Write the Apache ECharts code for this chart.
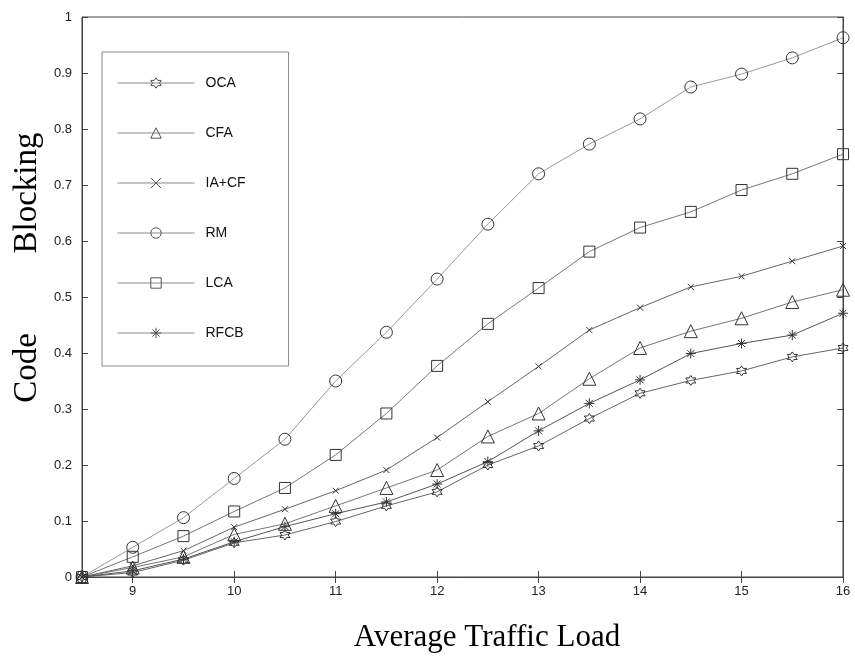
<!DOCTYPE html>
<html>
<head>
<meta charset="utf-8">
<script src="https://cdn.jsdelivr.net/npm/echarts@6/dist/echarts.min.js"></script>
<style>
	html,body{margin:0;padding:0;background:#fff;}
	#chart{width:855px;height:657px;}
</style>
</head>
<body>
<div id="chart"></div>
<script>
//横轴：平均话务量
var loads = [8.5, 9, 9.5, 10, 10.5, 11, 11.5, 12, 12.5, 13, 13.5, 14, 14.5, 15, 15.5, 16];
var xTicks = [9, 10, 11, 12, 13, 14, 15, 16];
var yTicks = [0, 0.1, 0.2, 0.3, 0.4, 0.5, 0.6, 0.7, 0.8, 0.9, 1];

//各算法的码阻塞率
var oca  = [0, 0.008, 0.030, 0.061, 0.075, 0.099, 0.127, 0.152, 0.200, 0.234, 0.283, 0.328, 0.351, 0.368, 0.393, 0.409];
var cfa  = [0, 0.017, 0.036, 0.076, 0.095, 0.127, 0.159, 0.191, 0.251, 0.292, 0.354, 0.409, 0.439, 0.462, 0.491, 0.513];
var iacf = [0, 0.020, 0.047, 0.089, 0.121, 0.154, 0.191, 0.249, 0.313, 0.376, 0.441, 0.481, 0.518, 0.537, 0.564, 0.591];
var rm   = [0, 0.053, 0.106, 0.176, 0.246, 0.350, 0.437, 0.532, 0.630, 0.720, 0.773, 0.818, 0.875, 0.898, 0.927, 0.963];
var lca  = [0, 0.036, 0.073, 0.117, 0.159, 0.218, 0.292, 0.377, 0.452, 0.516, 0.581, 0.624, 0.652, 0.691, 0.720, 0.755];
var rfcb = [0, 0.011, 0.032, 0.063, 0.090, 0.113, 0.134, 0.166, 0.206, 0.261, 0.310, 0.352, 0.399, 0.417, 0.432, 0.471];

var names = ['OCA', 'CFA', 'IA+CF', 'RM', 'LCA', 'RFCB'];
var values = [oca, cfa, iacf, rm, lca, rfcb];

//标记形状
var hexagram = 'path://M10 0 L12.89 5 L18.66 5 L15.77 10 L18.66 15 L12.89 15 L10 20 L7.11 15 L1.34 15 L4.23 10 L1.34 5 L7.11 5 Z';
var xmark = 'path://M0 0 L20 20 M20 0 L0 20';
var aster = 'path://M10 0 L10 20 M0 10 L20 10 M3 3 L17 17 M17 3 L3 17';
var symbols = [hexagram, 'triangle', xmark, 'circle', 'rect', aster];
var sizes = [10, 13, 6, 12, 11, 10];
var lineColors = ['#666', '#777', '#666', '#999', '#777', '#555'];

function pairs(ys){
	var out = [];
	for(var i = 0; i < loads.length; i++){
		out.push([loads[i], ys[i]]);
	}
	return out;
}

var series = [];
for(var i = 0; i < names.length; i++){
	series.push({
		name: names[i],
		type: 'line',
		data: pairs(values[i]),
		symbol: symbols[i],
		symbolSize: sizes[i],
		showAllSymbol: true,
		clip: false,
		lineStyle: {color: lineColors[i], width: 1},
		itemStyle: {color: 'rgba(0,0,0,0)', borderColor: '#333', borderWidth: 1},
		emphasis: {disabled: true},
		animation: false
	});
}

var tickFont = {fontFamily: 'Liberation Sans', fontSize: 13, color: '#222'};
var titleFont = '33px "Liberation Serif"';

var option = {
	backgroundColor: '#fff',
	animation: false,
	grid: {left: 82, right: 12, top: 17, bottom: 80, show: true, borderColor: '#444', borderWidth: 1},
	legend: {
		orient: 'vertical',
		left: 102,
		top: 52,
		padding: [24, 43, 26, 15],
		itemGap: 36,
		itemWidth: 77,
		itemHeight: 13,
		backgroundColor: '#fff',
		borderColor: '#888',
		borderWidth: 1,
		selectedMode: false,
		lineStyle: {width: 1, color: '#888'},
		itemStyle: {color: 'rgba(0,0,0,0)', borderColor: '#555', borderWidth: 1},
		textStyle: {fontFamily: 'Liberation Sans', fontSize: 14, color: '#111', padding: [0, 0, 0, 6]},
		data: names
	},
	xAxis: [{
		type: 'value', min: 8.5, max: 16,
		axisLine: {lineStyle: {color: '#444'}},
		axisTick: {inside: true, length: 6, customValues: xTicks, lineStyle: {color: '#444'}},
		axisLabel: Object.assign({margin: 8, customValues: xTicks}, tickFont),
		splitLine: {show: false}
	}, {
		type: 'value', min: 8.5, max: 16, position: 'top',
		axisLine: {lineStyle: {color: '#444'}},
		axisTick: {inside: true, length: 6, customValues: xTicks, lineStyle: {color: '#444'}},
		axisLabel: {show: false},
		splitLine: {show: false}
	}],
	yAxis: [{
		type: 'value', min: 0, max: 1, interval: 0.1,
		axisLine: {show: true, lineStyle: {color: '#444'}},
		axisTick: {show: true, inside: true, length: 6, lineStyle: {color: '#444'}},
		axisLabel: Object.assign({margin: 10, formatter: function(v){ return String(Math.round(v * 10) / 10); }}, tickFont),
		splitLine: {show: false}
	}, {
		type: 'value', min: 0, max: 1, interval: 0.1, position: 'right',
		axisLine: {show: true, lineStyle: {color: '#444'}},
		axisTick: {show: true, inside: true, length: 6, lineStyle: {color: '#444'}},
		axisLabel: {show: false},
		splitLine: {show: false}
	}],
	graphic: [
		{type: 'text', x: 487, y: 638, style: {text: 'Average Traffic Load', font: '31px "Liberation Serif"', fill: '#000', align: 'center', verticalAlign: 'middle'}},
		{type: 'text', x: 27, y: 193, rotation: Math.PI / 2, style: {text: 'Blocking', font: titleFont, fill: '#000', align: 'center', verticalAlign: 'middle'}},
		{type: 'text', x: 27, y: 368, rotation: Math.PI / 2, style: {text: 'Code', font: titleFont, fill: '#000', align: 'center', verticalAlign: 'middle'}}
	],
	series: series
};

var myChart = echarts.init(document.getElementById('chart'));
myChart.setOption(option);
</script>
</body>
</html>
